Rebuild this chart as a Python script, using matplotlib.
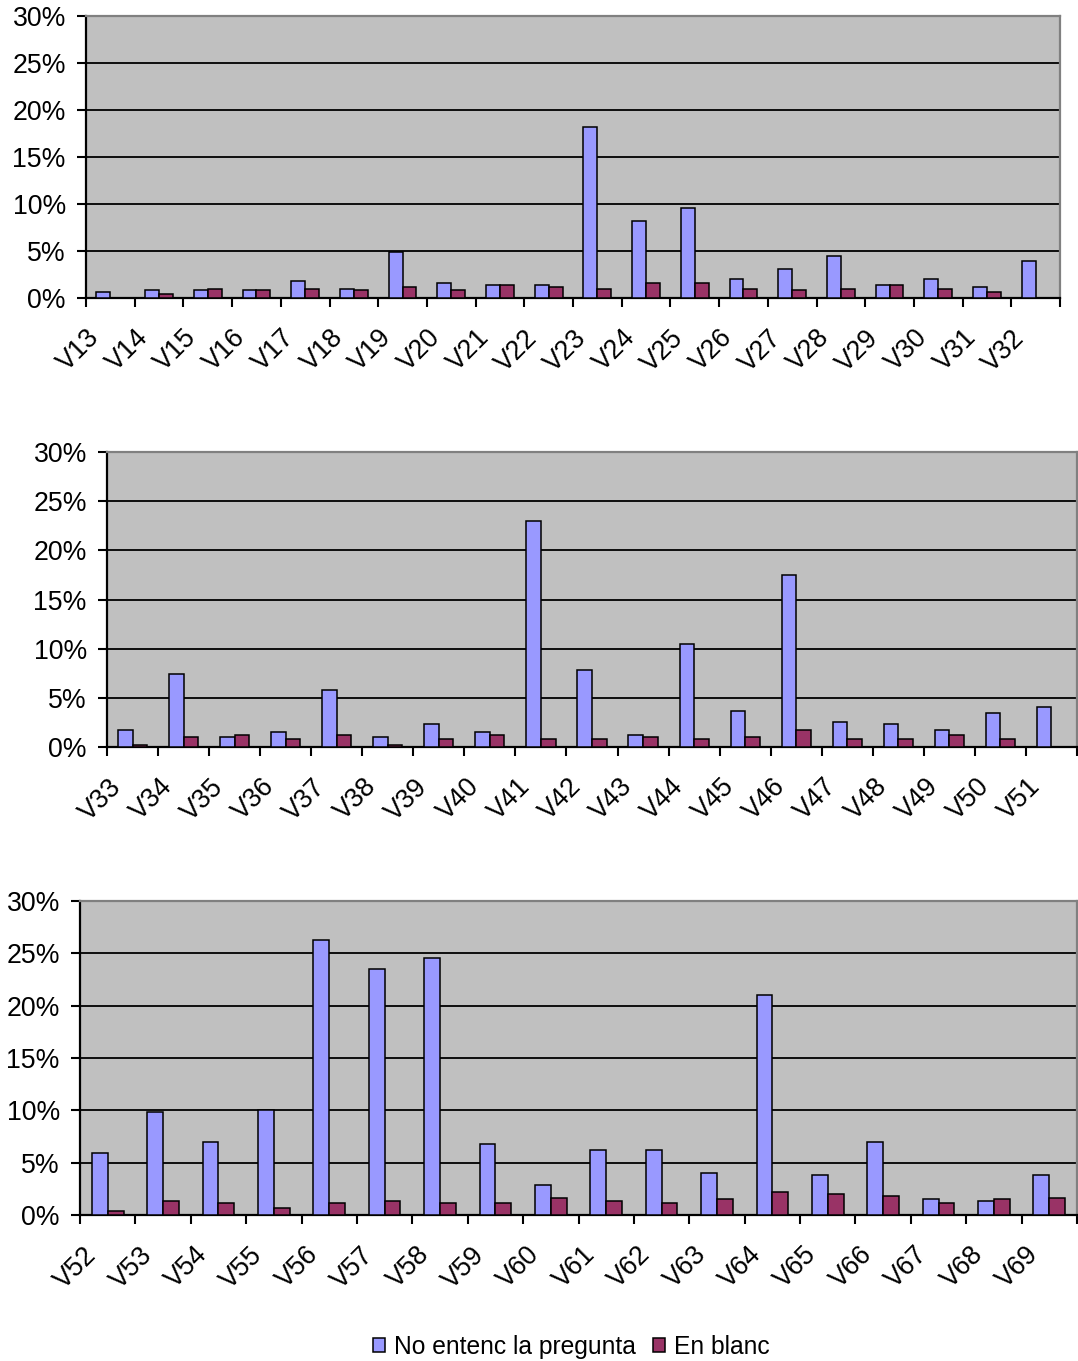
import numpy as np
import matplotlib
matplotlib.use("Agg")
import matplotlib.pyplot as plt
from matplotlib.ticker import FuncFormatter, FixedLocator
from matplotlib.transforms import ScaledTranslation
from matplotlib.patches import Patch

plt.rcParams['font.family'] = ['Liberation Sans', 'DejaVu Sans']

# panel 1
labels_1 = ["V%d" % i for i in range(13, 33)]
no_entenc_1 = [0.6, 0.8, 0.8, 0.8, 1.8, 1.0, 4.9, 1.6, 1.4, 1.4,
               18.2, 8.2, 9.6, 2.0, 3.1, 4.5, 1.4, 2.0, 1.2, 3.9]
en_blanc_1 = [0.0, 0.4, 1.0, 0.8, 1.0, 0.8, 1.2, 0.8, 1.4, 1.2,
              1.0, 1.6, 1.6, 1.0, 0.8, 1.0, 1.4, 1.0, 0.6, 0.0]

# panel 2
labels_2 = ["V%d" % i for i in range(33, 52)]
no_entenc_2 = [1.7, 7.4, 1.0, 1.5, 5.8, 1.0, 2.3, 1.5, 23.0, 7.8,
               1.2, 10.5, 3.7, 17.5, 2.5, 2.3, 1.7, 3.5, 4.1]
en_blanc_2 = [0.2, 1.0, 1.2, 0.8, 1.2, 0.2, 0.8, 1.2, 0.8, 0.8,
              1.0, 0.8, 1.0, 1.7, 0.8, 0.8, 1.2, 0.8, 0.0]

# panel 3
labels_3 = ["V%d" % i for i in range(52, 70)]
no_entenc_3 = [5.9, 9.8, 7.0, 10.0, 26.3, 23.5, 24.6, 6.8, 2.9, 6.2,
               6.2, 4.0, 21.0, 3.85, 7.0, 1.5, 1.3, 3.85]
en_blanc_3 = [0.4, 1.3, 1.1, 0.7, 1.1, 1.3, 1.1, 1.1, 1.65, 1.3,
              1.1, 1.5, 2.2, 2.0, 1.8, 1.1, 1.5, 1.65]

series_names = ["No entenc la pregunta", "En blanc"]
blue = "#9999FF"
maroon = "#993366"
bg = "#C0C0C0"

W, H = 1078, 1361
fig = plt.figure(figsize=(W / 100, H / 100), dpi=100)

# axes boxes in pixels: left, top, right, bottom
boxes = [
    (86, 16, 1060, 298),
    (107, 452, 1077, 747),
    (80, 901, 1077, 1215),
]
panels = [
    (labels_1, no_entenc_1, en_blanc_1),
    (labels_2, no_entenc_2, en_blanc_2),
    (labels_3, no_entenc_3, en_blanc_3),
]

FS = 19.2


def draw_panel(ax, labels, a, b):
    n = len(labels)
    x = np.arange(n)
    w = 1 / 3.5
    ax.set_facecolor(bg)
    ax.bar(x - w / 2, a, w, color=blue, edgecolor="black", linewidth=1.1, zorder=3)
    ax.bar(x + w / 2, b, w, color=maroon, edgecolor="black", linewidth=1.1, zorder=3)
    ax.set_xlim(-0.5, n - 0.5)
    ax.set_ylim(0, 30)
    ax.set_yticks(np.arange(0, 31, 5))
    ax.yaxis.set_major_formatter(FuncFormatter(lambda v, p: "%d%%" % v))
    ax.grid(axis="y", color="black", linewidth=1.3, zorder=1)
    ax.set_axisbelow(True)

    ax.set_xticks(x)
    ax.set_xticklabels(labels, rotation=45, ha="right", va="center",
                       rotation_mode="anchor", fontsize=FS)
    ax.xaxis.set_minor_locator(FixedLocator(np.arange(n + 1) - 0.5))
    ax.tick_params(axis="x", which="major", length=0, pad=0)
    ax.tick_params(axis="x", which="minor", length=6.5, width=1.5, direction="out")
    ax.tick_params(axis="y", length=6.5, width=1.5, pad=8, labelsize=FS)
    off = ScaledTranslation(-15 / 100, -36 / 100, fig.dpi_scale_trans)
    for lab in ax.get_xticklabels():
        lab.set_transform(lab.get_transform() + off)

    ax.spines["left"].set_color("black")
    ax.spines["bottom"].set_color("black")
    ax.spines["left"].set_linewidth(1.6)
    ax.spines["bottom"].set_linewidth(1.6)
    ax.spines["top"].set_color("#808080")
    ax.spines["right"].set_color("#808080")
    ax.spines["top"].set_linewidth(1.6)
    ax.spines["right"].set_linewidth(1.6)


for (l, t, r, btm), (labels, a, b) in zip(boxes, panels):
    ax = fig.add_axes([l / W, 1 - btm / H, (r - l) / W, (btm - t) / H])
    draw_panel(ax, labels, a, b)

handles = [Patch(facecolor=blue, edgecolor="black", linewidth=1.1),
           Patch(facecolor=maroon, edgecolor="black", linewidth=1.1)]
fig.legend(handles, series_names, loc="center", bbox_to_anchor=(571 / W, 1 - 1347 / H),
           ncol=2, frameon=False, fontsize=17.7, handlelength=0.5, handleheight=0.5,
           handletextpad=0.35, columnspacing=0.7)

fig.savefig("out.png", dpi=100, facecolor="white")
